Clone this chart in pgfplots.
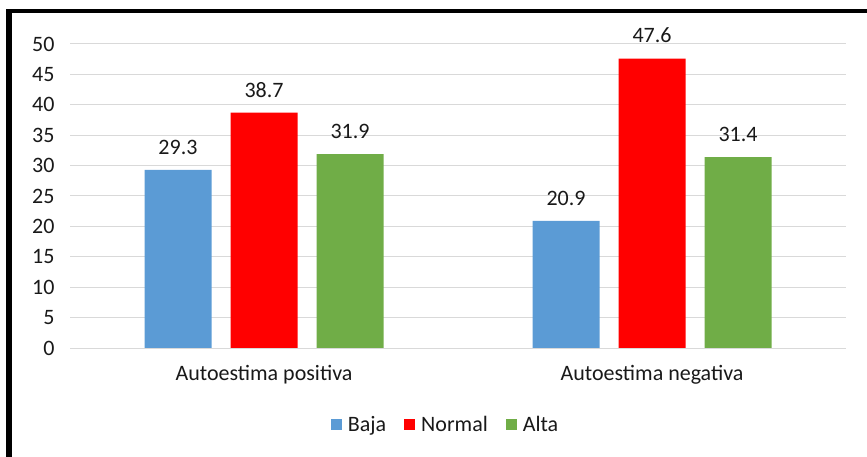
\documentclass[border=0pt]{standalone}
\usepackage{pgfplots}
\pgfplotsset{compat=1.18}
\usepackage{fontspec}
\setmainfont{Carlito}
\definecolor{cBaja}{HTML}{5B9BD5}
\definecolor{cNormal}{HTML}{FF0000}
\definecolor{cAlta}{HTML}{70AD47}
\definecolor{cGrid}{HTML}{D9D9D9}
\begin{document}
\begin{tikzpicture}[font=\fontsize{22bp}{26bp}\selectfont]
\path[use as bounding box] (0,0) rectangle (867bp,457bp);
\begin{axis}[
  at={(70bp,109bp)}, anchor=south west,
  scale only axis, width=776bp, height=304bp,
  ybar=19bp, bar width=67bp,
  xmin=-0.5, xmax=1.5, ymin=0, ymax=50,
  xtick={0,1}, xticklabels={Autoestima positiva, Autoestima negativa},
  ytick={0,5,...,50},
  major tick length=0pt,
  axis line style={draw=none},
  ymajorgrids, grid style={cGrid, line width=1bp},
  /pgf/number format/assume math mode=true,
  tick label style={font=\fontsize{22bp}{26bp}\selectfont, text=black!90},
  xticklabel style={yshift=-14bp},
  yticklabel style={xshift=-12bp},
  nodes near coords,
  every node near coord/.append style={font=\fontsize{22bp}{26bp}\selectfont, text=black!90, /pgf/number format/fixed, /pgf/number format/precision=1, /pgf/number format/fixed zerofill, /pgf/number format/assume math mode=true, yshift=12bp},
  legend columns=3,
  legend style={at={(0.484,-0.253)}, anchor=center, draw=none, fill=none,
    font=\fontsize{22bp}{26bp}\selectfont, text=black!90,
    /tikz/every odd column/.append style={column sep=4bp},
    /tikz/every even column/.append style={column sep=16bp}},
  legend image code/.code={\fill[#1] (0bp,-5.5bp) rectangle (11bp,5.5bp);},
]
\addplot[fill=cBaja, draw=none] coordinates {(0,29.3) (1,20.9)};
\addplot[fill=cNormal, draw=none] coordinates {(0,38.7) (1,47.6)};
\addplot[fill=cAlta, draw=none] coordinates {(0,31.9) (1,31.4)};
\legend{Baja, Normal, Alta}
\end{axis}
\draw[line width=6bp] (9bp,0bp) -- (9bp,448bp);
\draw[line width=4bp] (6bp,446bp) -- (867bp,446bp);
\end{tikzpicture}
\end{document}
